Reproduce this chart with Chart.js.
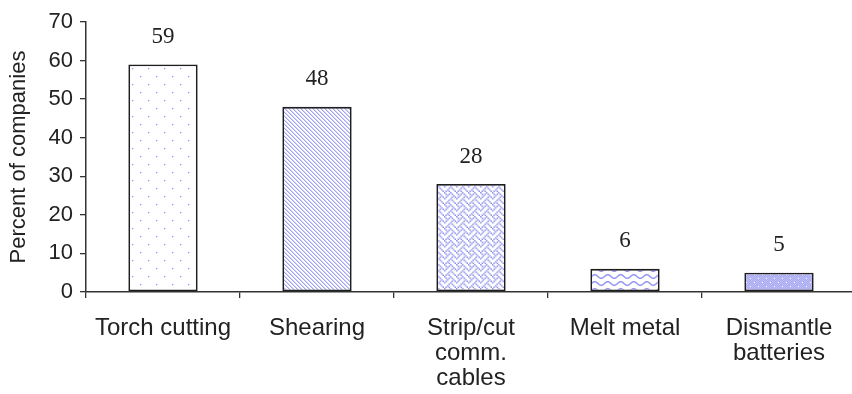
<!DOCTYPE html>
<html>
<head>
<meta charset="utf-8">
<script src="https://cdn.jsdelivr.net/npm/chart.js@4/dist/chart.umd.min.js"></script>
<style>
  html, body { margin: 0; padding: 0; background: #fff; overflow: hidden; }
  #wrap { width: 860px; height: 394px; }
</style>
</head>
<body>
<div id="wrap"><canvas id="c" width="860" height="394"></canvas></div>
<script>
// Share of companies doing each task
const categories = [
  "Torch cutting",
  "Shearing",
  ["Strip/cut", "comm.", "cables"],
  "Melt metal",
  ["Dismantle", "batteries"]
];
const percentOfCompanies = [59, 48, 28, 6, 5];
const yTicks = [0, 10, 20, 30, 40, 50, 60, 70];

function tile(w, h, draw) {
  const cv = document.createElement("canvas");
  cv.width = w; cv.height = h;
  const g = cv.getContext("2d");
  draw(g, w, h);
  return g.createPattern(cv, "repeat");
}
function px(g, x, y, c) { g.fillStyle = c; g.fillRect(x, y, 1, 1); }

// 8x8 bitmap hatch, scaled up with smoothing
function bitmap(rows, scale, fg, bg) {
  const src = document.createElement("canvas");
  src.width = 8; src.height = 8;
  const s = src.getContext("2d");
  s.fillStyle = bg; s.fillRect(0, 0, 8, 8);
  rows.forEach((bits, y) => {
    for (let x = 0; x < 8; x++) if (bits & (0x80 >> x)) px(s, x, y, fg);
  });
  const n = Math.round(8 * scale);
  return tile(n, n, (g) => {
    g.imageSmoothingEnabled = true;
    g.drawImage(src, 0, 0, n, n);
  });
}

// sparse staggered dots
const dots = tile(16, 16, (g, w, h) => {
  g.fillStyle = "#fff"; g.fillRect(0, 0, w, h);
  [[4, 4], [12, 12]].forEach(([x, y]) => {
    px(g, x, y, "#a2a2ec");
    px(g, x + 1, y, "#d6d6f8"); px(g, x, y + 1, "#d6d6f8");
  });
});
// fine diagonal hatching
const hatch = tile(4, 4, (g, w, h) => {
  g.fillStyle = "#fff"; g.fillRect(0, 0, w, h);
  for (let i = 0; i < 4; i++) { px(g, i, i, "#a4a4f2"); px(g, (i + 1) % 4, i, "#d2d2f8"); }
});
// woven zigzag
const weave = bitmap([0x88, 0x54, 0x22, 0x45, 0x88, 0x14, 0x22, 0x51], 1.5, "#8f8fee", "#ffffff");
// wavy lines
const wave = tile(13, 7, (g, w, h) => {
  g.fillStyle = "#fff"; g.fillRect(0, 0, w, h);
  g.strokeStyle = "#9898f0"; g.lineWidth = 1.5;
  g.beginPath();
  for (let x = -1; x <= w + 1; x += 0.5) {
    const y = 3.5 + 1.8 * Math.sin((x / w) * Math.PI * 2);
    if (x === -1) g.moveTo(x, y); else g.lineTo(x, y);
  }
  g.stroke();
});
// dense shaded dots
const shade = tile(8, 8, (g, w, h) => {
  g.fillStyle = "#bebef6"; g.fillRect(0, 0, w, h);
  for (let y = 0; y < h; y++) for (let x = 0; x < w; x++)
    if ((x + y) % 2 === 0) px(g, x, y, "#aaaaf0");
  px(g, 2, 2, "#fff"); px(g, 6, 6, "#f2f2ff");
});

const patterns = [dots, hatch, weave, wave, shade];

const valueLabels = {
  id: "valueLabels",
  afterDatasetsDraw(chart) {
    const ctx = chart.ctx;
    const meta = chart.getDatasetMeta(0);
    ctx.save();
    ctx.font = "23px 'Liberation Serif', serif";
    ctx.fillStyle = "#222";
    ctx.textAlign = "center";
    ctx.textBaseline = "bottom";
    meta.data.forEach((bar, i) => {
      ctx.fillText(String(chart.data.datasets[0].data[i]), bar.x, bar.y - 16);
    });
    ctx.restore();
  }
};

new Chart(document.getElementById("c"), {
  type: "bar",
  data: {
    labels: categories,
    datasets: [{
      data: percentOfCompanies,
      backgroundColor: patterns,
      borderColor: "#1e1e1e",
      borderWidth: 1.8,
      borderSkipped: false,
      categoryPercentage: 0.9,
      barPercentage: 0.5
    }]
  },
  options: {
    responsive: false,
    animation: false,
    devicePixelRatio: 1,
    layout: { padding: { top: 22, right: 4, left: 0, bottom: 0 } },
    plugins: { legend: { display: false }, tooltip: { enabled: false } },
    scales: {
      x: {
        offset: true,
        grid: { offset: true, drawOnChartArea: false, color: "#333", tickLength: 6, lineWidth: 1.3 },
        border: { color: "#333", width: 1.5 },
        ticks: {
          color: "#222",
          maxRotation: 0,
          autoSkip: false,
          padding: 18,
          font: { family: "'Liberation Sans', Arial, sans-serif", size: 24, lineHeight: 1.04 }
        },
        afterFit(s) { s.height = 102; }
      },
      y: {
        min: 0, max: 70,
        afterBuildTicks(s) { s.ticks = yTicks.map(v => ({ value: v })); },
        grid: { drawOnChartArea: false, color: "#333", tickLength: 6, lineWidth: 1.3 },
        border: { color: "#333", width: 1.5 },
        ticks: {
          color: "#222",
          padding: 7,
          font: { family: "'Liberation Sans', Arial, sans-serif", size: 22 }
        },
        title: {
          display: true,
          text: "Percent of companies",
          color: "#222",
          padding: { top: 6, bottom: 0 },
          font: { family: "'Liberation Sans', Arial, sans-serif", size: 22 }
        },
        afterFit(s) { s.width = 86; }
      }
    }
  },
  plugins: [valueLabels]
});
</script>
</body>
</html>
